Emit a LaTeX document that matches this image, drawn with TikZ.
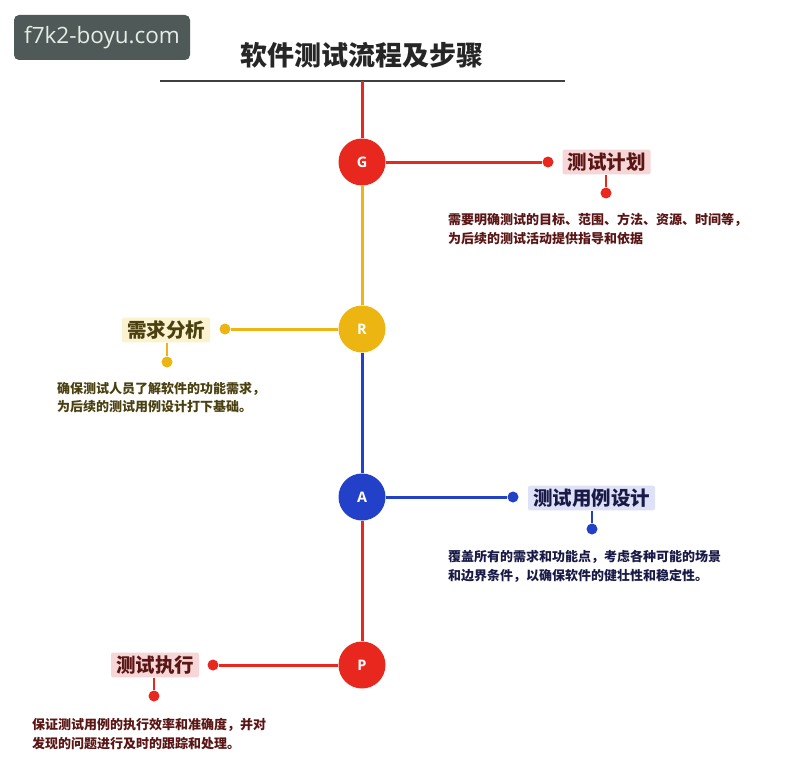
\documentclass[tikz,border=0pt]{standalone}
\usepackage{fontspec}
\setmainfont{Noto Sans CJK SC}
\newfontfamily\wmfont{Open Sans}
\newfontfamily\latfont{Open Sans}
\definecolor{cred}{HTML}{E8281E}
\definecolor{cyel}{HTML}{EDB512}
\definecolor{cblue}{HTML}{2340C8}
\definecolor{tred}{HTML}{5A1515}
\definecolor{tyel}{HTML}{4A4010}
\definecolor{tblue}{HTML}{1A1A48}
\definecolor{bred}{HTML}{F6D6D6}
\definecolor{byel}{HTML}{FBF2CF}
\definecolor{bblue}{HTML}{DFE1F6}
\definecolor{wmbg}{HTML}{4F5A58}
\definecolor{wmtx}{HTML}{E6ECE6}
\tikzset{
  stage/.style={circle,fill=#1,minimum size=47pt,inner sep=0pt,text=white,font=\latfont\bfseries\fontsize{14.5pt}{16pt}\selectfont},
  dotn/.style={circle,fill=#1,minimum size=11pt,inner sep=0pt},
  labelbox/.style={rounded corners=2pt,inner xsep=5pt,inner ysep=3pt,font=\bfseries\fontsize{19.5pt}{22pt}\selectfont},
  desc/.style={anchor=west,align=left,inner sep=0pt,font=\bfseries\fontsize{13pt}{18.5pt}\selectfont},
  link/.style={line width=3pt,draw=#1},
  tick/.style={line width=2pt,draw=#1},
}
\begin{document}
\begin{tikzpicture}[x=1pt,y=-1pt]
\useasboundingbox[fill=white] (0,0) rectangle (798,760);
% watermark
\node[fill=wmbg,rounded corners=5pt,minimum width=176pt,minimum height=45pt,text=wmtx,font=\wmfont\fontsize{22.5pt}{24pt}\selectfont,inner sep=0pt] (wm) at (102,37.5) {f7k2-boyu.com};
% title
\node[font=\bfseries\fontsize{27pt}{30pt}\selectfont,text=black!85] (title) at (362,55) {软件测试流程及步骤};
\coordinate (ul) at (160,81);
\coordinate (ur) at (565,81);
\coordinate (top) at (362,81);
\draw[line width=1.3pt,draw=black!75] (ul) -- (ur);
% stages
\node[stage=cred] (G) at (362,162) {G};
\node[stage=cyel] (R) at (362,329) {R};
\node[stage=cblue] (A) at (362,497) {A};
\node[stage=cred] (P) at (362,665) {P};
\draw[link=cred] (top) -- (G);
\draw[link=cyel] (G) -- (R);
\draw[link=cblue] (R) -- (A);
\draw[link=cred] (A) -- (P);
% G branch
\node[dotn=cred] (gd) at (548,162) {};
\node[labelbox,fill=bred,text=tred] (gl) at (606.5,162) {测试计划};
\node[dotn=cred] (gd2) at (606,193) {};
\draw[link=cred] (G) -- (gd);
\draw[tick=cred] (gl.south -| gd2) -- (gd2);
\node[desc,text=tred] (gt) at (448,229) {需要明确测试的目标、范围、方法、资源、时间等，\\为后续的测试活动提供指导和依据};
% R branch
\node[dotn=cyel] (rd) at (225,329) {};
\node[labelbox,fill=byel,text=tyel] (rl) at (166,330) {需求分析};
\node[dotn=cyel] (rd2) at (167,362) {};
\draw[link=cyel] (R) -- (rd);
\draw[tick=cyel] (rl.south -| rd2) -- (rd2);
\node[desc,text=tyel] (rt) at (57,397.5) {确保测试人员了解软件的功能需求，\\为后续的测试用例设计打下基础。};
% A branch
\node[dotn=cblue] (ad) at (513,497) {};
\node[labelbox,fill=bblue,text=tblue] (al) at (591.5,498) {测试用例设计};
\node[dotn=cblue] (ad2) at (592,529) {};
\draw[link=cblue] (A) -- (ad);
\draw[tick=cblue] (al.south -| ad2) -- (ad2);
\node[desc,text=tblue] (at) at (448,566.5) {覆盖所有的需求和功能点，考虑各种可能的场景\\和边界条件，以确保软件的健壮性和稳定性。};
% P branch
\node[dotn=cred] (pd) at (213,665) {};
\node[labelbox,fill=bred,text=tred] (pl) at (155,665) {测试执行};
\node[dotn=cred] (pd2) at (154,696) {};
\draw[link=cred] (P) -- (pd);
\draw[tick=cred] (pl.south -| pd2) -- (pd2);
\node[desc,text=tred] (pt) at (32,734) {保证测试用例的执行效率和准确度，并对\\发现的问题进行及时的跟踪和处理。};
\end{tikzpicture}
\end{document}
